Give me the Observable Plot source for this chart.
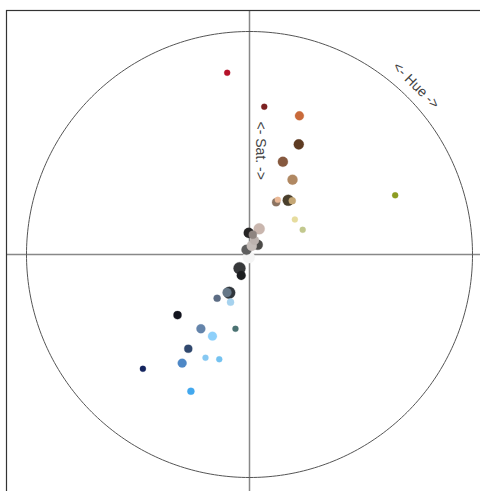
<!DOCTYPE html>
<html>
<head>
<meta charset="utf-8">
<script src="https://cdn.jsdelivr.net/npm/d3@7"></script>
<script src="https://cdn.jsdelivr.net/npm/@observablehq/plot@0.6"></script>
<style>
  html, body { margin: 0; padding: 0; overflow: hidden; background: #fff; }
  #chart svg { display: block; max-width: none; }
</style>
</head>
<body>
<div id="chart"></div>
<script>
// Hue (degrees, clockwise from top), saturation (0..1), weight and colour of each swatch
const hue = [353, 5.7, 19.8, 24.1, 19.8, 29.9, 35.5, 38.5, 27.0, 27.4, 67.9, 52.3, 65.1,
  20.7, 358, 9.5, 19.7, 40.6, 327.5, 14.8, 194.5, 216.1, 201.6, 207.9, 210.6,
  216.5, 201.7, 229.9, 213.2, 204.4, 190.7, 213, 203.1, 196.1, 211.8, 223, 203.2];
const sat = [0.821, 0.666, 0.661, 0.541, 0.442, 0.387, 0.299, 0.308, 0.263, 0.276, 0.705, 0.257, 0.263,
  0.123, 0.097, 0.090, 0.067, 0.057, 0.025, 0.040, 0.0125, 0.076, 0.101, 0.194, 0.198,
  0.244, 0.230, 0.422, 0.398, 0.402, 0.339, 0.504, 0.503, 0.489, 0.573, 0.701, 0.667];
const weight = [1, 1, 2.2, 2.8, 2.8, 2.8, 3.4, 1.4, 1.8, 1, 1, 1, 1,
  3.4, 2.8, 1.8, 2.2, 2.8, 2.8, 2.8, 4, 4, 2.2, 4, 2.2,
  1.4, 1.4, 1.8, 2.2, 2.2, 1, 1.8, 1, 1, 2.2, 1, 1.4];
const color = ["#b5122a", "#7c2222", "#c96a3a", "#5e3b22", "#86593f", "#b08862", "#4a3f2c", "#c4a674", "#8c7462", "#eab896", "#8c9c22", "#e6dc9e", "#c2c88e",
  "#c9b6ae", "#262424", "#8e8480", "#bcb2ae", "#4c4a48", "#5e5e5e", "#c4bcb8", "#f5f5f5", "#36383a", "#1c1e20", "#30363c", "#667888",
  "#5c6c84", "#a6d2ee", "#12141e", "#6484aa", "#8ed0fa", "#4a7272", "#30486e", "#86c8f2", "#74c2f0", "#4e88c6", "#14245e", "#42a8ee"];

const labels = [
  {text: "<- Sat. ->", hue: 6, sat: 0.468, rotate: 90},
  {text: "<- Hue ->", hue: 44.6, sat: 1.064, rotate: 45}
];

const rad = d => d * Math.PI / 180;
const swatches = hue.map((h, i) => ({
  x: sat[i] * Math.sin(rad(h)),
  y: sat[i] * Math.cos(rad(h)),
  w: weight[i],
  c: color[i]
}));
const labelData = labels.map(l => ({...l, x: l.sat * Math.sin(rad(l.hue)), y: l.sat * Math.cos(rad(l.hue))}));
// unit circle (saturation = 1)
const ring = d3.range(0, 361, 1).map(a => ({x: Math.sin(rad(a)), y: Math.cos(rad(a))}));

const ext = 243 / 223;
const chart = Plot.plot({
  width: 500,
  height: 505,
  marginLeft: 6,
  marginRight: 8,
  marginTop: 10,
  marginBottom: 7,
  x: {domain: [-ext, ext], axis: null},
  y: {domain: [-244 / 223, 244 / 223], axis: null},
  r: {type: "sqrt", domain: [0, 4], range: [0, 6]},
  style: {fontFamily: "'Liberation Sans', Arial, sans-serif", background: "#fff"},
  marks: [
    Plot.ruleX([0], {stroke: "#888", strokeWidth: 1.5}),
    Plot.ruleY([0], {stroke: "#888", strokeWidth: 1.5}),
    Plot.line(ring, {x: "x", y: "y", stroke: "#555", strokeWidth: 1}),
    Plot.text(labelData, {x: "x", y: "y", text: "text", rotate: "rotate", fill: "#444", fontSize: 14}),
    Plot.dot(swatches, {x: "x", y: "y", r: "w", fill: "c", stroke: "c", strokeOpacity: 0.35, strokeWidth: 0.8}),
    Plot.frame({stroke: "#333", strokeWidth: 1.2})
  ]
});
document.getElementById("chart").appendChild(chart);
</script>
</body>
</html>
